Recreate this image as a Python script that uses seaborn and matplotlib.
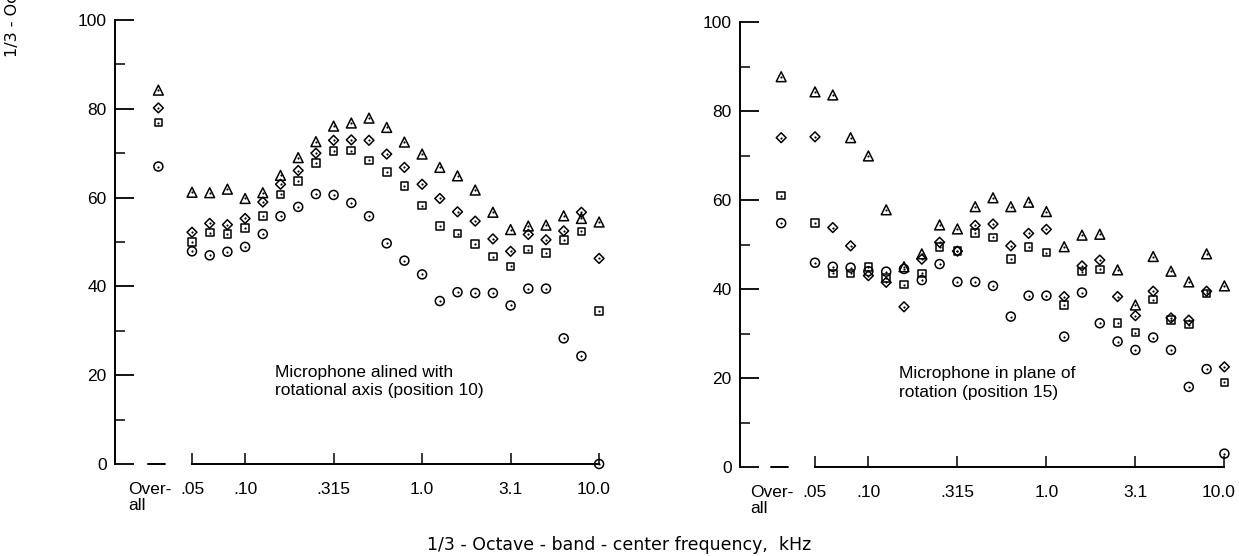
import matplotlib
matplotlib.use("Agg")
import matplotlib.pyplot as plt
import matplotlib.transforms as mtransforms
import numpy as np
import pandas as pd
import seaborn as sns

# 1/3-octave band centre frequencies, kHz
bands = ["0.05", "0.063", "0.08", "0.10", "0.125", "0.16", "0.20", "0.25", "0.315",
         "0.40", "0.50", "0.63", "0.80", "1.0", "1.25", "1.6", "2.0", "2.5", "3.15",
         "4.0", "5.0", "6.3", "8.0", "10.0"]
labelled_bands = ["0.05", "0.10", "0.315", "1.0", "3.15", "10.0"]
band_tick_labels = [".05", ".10", ".315", "1.0", "3.1", "10.0"]
overall_label = "Over-\nall"

series_names = ["triangle", "diamond", "square", "circle"]

# Position 10: microphone aligned with the rotational axis
pos10_overall = [84.2, 80.2, 76.9, 67.0]
pos10_triangle = [61.2, 61.1, 61.9, 59.8, 61.1, 65.0, 69.0, 72.6, 76.1, 76.8, 77.9, 75.8,
                  72.5, 69.8, 66.8, 64.9, 61.7, 56.7, 52.8, 53.6, 53.8, 55.9, 55.3, 54.5]
pos10_diamond = [52.2, 54.2, 53.9, 55.3, 59.0, 63.0, 66.1, 70.0, 72.9, 73.0, 72.9, 69.8,
                 66.8, 63.0, 59.8, 56.8, 54.7, 50.7, 47.9, 51.7, 50.5, 52.5, 56.7, 46.3]
pos10_square = [50.0, 52.1, 51.8, 53.1, 55.9, 60.7, 63.8, 67.8, 70.5, 70.6, 68.4, 65.8,
                62.6, 58.2, 53.6, 51.9, 49.6, 46.7, 44.5, 48.3, 47.5, 50.5, 52.4, 34.5]
pos10_circle = [47.9, 47.0, 47.8, 48.9, 51.8, 55.8, 57.9, 60.8, 60.6, 58.8, 55.8, 49.7,
                45.8, 42.7, 36.7, 38.7, 38.5, 38.5, 35.7, 39.5, 39.5, 28.3, 24.3, 0.0]

# Position 15: microphone in the plane of rotation
pos15_overall = [87.7, 74.0, 61.0, 54.8]
pos15_triangle = [84.3, 83.6, 74.0, 69.9, 57.8, 45.0, 47.9, 54.4, 53.5, 58.5, 60.5, 58.5,
                  59.5, 57.4, 49.5, 52.1, 52.3, 44.3, 36.4, 47.3, 44.0, 41.6, 47.9, 40.7]
pos15_diamond = [74.2, 53.8, 49.7, 43.0, 41.5, 36.0, 46.7, 50.5, 48.5, 54.3, 54.6, 49.7,
                 52.5, 53.4, 38.3, 45.2, 46.5, 38.3, 34.0, 39.5, 33.5, 33.0, 39.5, 22.5]
pos15_square = [54.8, 43.5, 43.5, 45.0, 42.5, 41.0, 43.5, 49.5, 48.5, 52.6, 51.6, 46.7,
                49.4, 48.2, 36.4, 43.9, 44.4, 32.3, 30.2, 37.6, 33.0, 32.0, 39.0, 19.0]
pos15_circle = [45.9, 45.0, 44.8, 44.0, 43.9, 44.5, 42.0, 45.6, 41.6, 41.6, 40.7, 33.8,
                38.5, 38.5, 29.3, 39.2, 32.3, 28.2, 26.3, 29.1, 26.3, 18.0, 22.0, 3.0]

panel_notes = ["Microphone alined with\nrotational axis (position 10)",
               "Microphone in plane of\nrotation (position 15)"]
x_title = "1/3 - Octave - band - center frequency,  kHz"
y_title = "1/3 - Octave - band sound pressure level, dB"

OVERALL_POS = -1.9          # the overall level sits left of the band axis
BAND_POS = {b: i for i, b in enumerate(bands)}


def panel_frame(overall, per_series):
    rows = []
    for name, ov, vals in zip(series_names, overall, per_series):
        rows.append({"series": name, "pos": OVERALL_POS, "level": ov})
        for b, v in zip(bands, vals):
            rows.append({"series": name, "pos": BAND_POS[b], "level": v})
    return pd.DataFrame(rows)


df10 = panel_frame(pos10_overall, [pos10_triangle, pos10_diamond, pos10_square, pos10_circle])
df15 = panel_frame(pos15_overall, [pos15_triangle, pos15_diamond, pos15_square, pos15_circle])

marker_style = {"triangle": ("^", 50), "diamond": ("D", 25),
                "square": ("s", 30), "circle": ("o", 42)}

sns.set_style("ticks")
plt.rcParams["font.family"] = ["Liberation Sans", "DejaVu Sans"]
for key in ["text.color", "axes.labelcolor", "xtick.color", "ytick.color", "axes.edgecolor"]:
    plt.rcParams[key] = "black"

fig = plt.figure(figsize=(12.39, 5.56), dpi=100)
W, H = 1239.0, 556.0

# axes boxes: y-axis px, .05 px, band step px, y of 0 and 100 px
layouts = [
    dict(axis_x=115, x05=192, step=17.7, y0=464, y100=20),
    dict(axis_x=740, x05=815, step=17.8, y0=467, y100=22),
]
x_right = 23.5

for k, (df, lay, note) in enumerate(zip([df10, df15], layouts, panel_notes)):
    xmin = (lay["axis_x"] - lay["x05"]) / lay["step"]
    right_px = lay["x05"] + x_right * lay["step"]
    rect = [lay["axis_x"] / W, 1 - lay["y0"] / H,
            (right_px - lay["axis_x"]) / W, (lay["y0"] - lay["y100"]) / H]
    ax = fig.add_axes(rect)
    ax.set_facecolor("white")

    for name in series_names:
        sub = df[df["series"] == name]
        mk, size = marker_style[name]
        sns.scatterplot(data=sub, x="pos", y="level", marker=mk, s=size, color="black",
                        linewidth=1.1, ax=ax, legend=False, clip_on=False, zorder=3)
        coll = ax.collections[-1]
        coll.set_facecolor("none")
        coll.set_edgecolor("black")
        sns.scatterplot(data=sub, x="pos", y="level", marker="o", s=2.5, color="black",
                        linewidth=0, ax=ax, legend=False, clip_on=False, zorder=4)

    ax.set_xlim(xmin, x_right)
    ax.set_ylim(0, 100)
    ax.set_xlabel("")
    ax.set_ylabel("")

    for side in ["top", "right"]:
        ax.spines[side].set_visible(False)
    ax.spines["left"].set_bounds(0, 100)
    ax.spines["left"].set_linewidth(1.4)
    ax.spines["bottom"].set_bounds(0, len(bands) - 1)
    ax.spines["bottom"].set_linewidth(1.4)

    ax.set_yticks(range(0, 101, 20))
    ax.set_yticks(range(10, 100, 20), minor=True)
    ax.tick_params(axis="y", which="major", direction="in", length=13.5, width=1.3,
                   pad=6, labelsize=12.5)
    ax.tick_params(axis="y", which="minor", direction="in", length=7, width=1.1)

    ax.set_xticks([BAND_POS[b] for b in labelled_bands])
    ax.set_xticklabels(band_tick_labels)
    ax.tick_params(axis="x", which="major", direction="in", length=8, width=1.1,
                   pad=13, labelsize=12.5)
    # keep the last band label inside the figure
    last = ax.get_xticklabels()[-1]
    last.set_transform(last.get_transform() +
                       mtransforms.ScaledTranslation(-4 / 72, 0, fig.dpi_scale_trans))

    # short dash on the zero line under the overall level
    ax.plot([OVERALL_POS - 0.6, OVERALL_POS + 0.4], [0, 0], color="black", lw=1.4,
            clip_on=False, zorder=2)
    ax.annotate(overall_label, xy=(OVERALL_POS, 0), xycoords="data",
                xytext=(-22, -13), textcoords="offset points", ha="left", va="top",
                fontsize=12.5, linespacing=1.05, annotation_clip=False)

    ax.text(4.7, 22.4 if k == 0 else 22.7, note, ha="left", va="top",
            fontsize=12.5, linespacing=1.3)

fig.text(0.5, 1 - 545 / H, x_title, ha="center", va="center", fontsize=12.5,
         family=["DejaVu Sans"])
fig.text(0.004, 1 - 57 / H, y_title, rotation=90, ha="left", va="bottom",
         fontsize=11.5, family=["DejaVu Sans"])

fig.savefig("out.png", dpi=100, facecolor="white")
